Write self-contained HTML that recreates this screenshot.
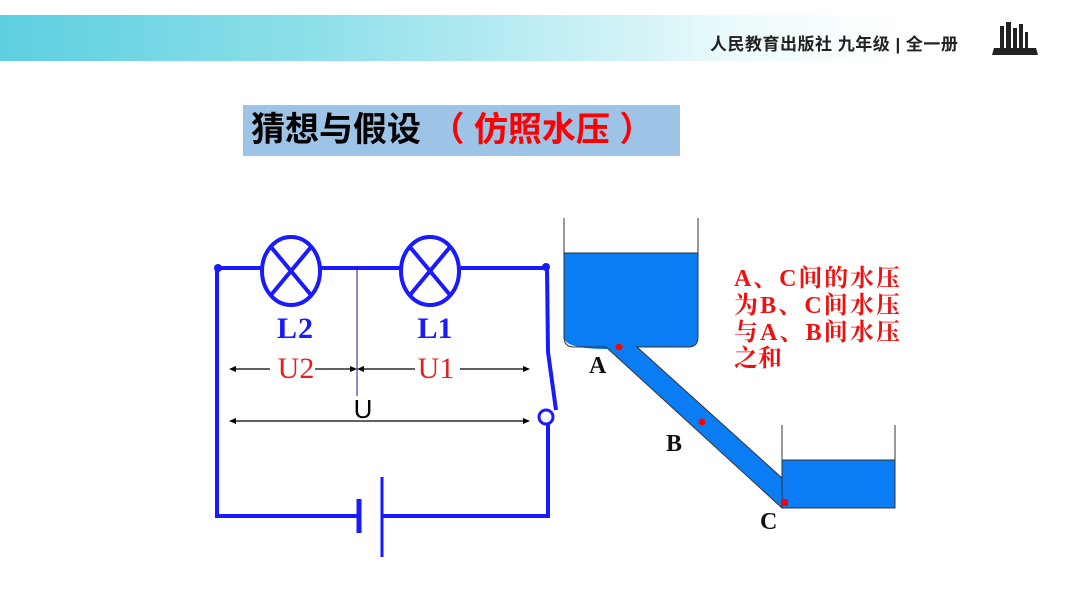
<!DOCTYPE html>
<html><head><meta charset="utf-8"><style>
body{margin:0;width:1066px;height:600px;background:#fff;position:relative;overflow:hidden;font-family:"Liberation Sans","Noto Sans CJK SC",sans-serif}
.band{position:absolute;left:0;top:15px;width:1066px;height:46px;background:linear-gradient(90deg,#5dcfe0 0%,#8fe0ea 30%,#c8f0f5 55%,#eefbfc 70%,#fff 85%)}
.pub{position:absolute;left:710px;top:30px;font-size:17px;font-weight:bold;color:#222;white-space:nowrap;letter-spacing:0.5px}
.title{position:absolute;left:243px;top:105px;width:437px;height:51px;background:#9dc3e6}
.title span{position:absolute;left:8px;top:5px;font-size:34px;font-weight:bold;white-space:nowrap;line-height:40px}
</style></head><body>
<div class="band"></div>
<div class="pub">人民教育出版社 九年级 | 全一册</div>
<svg style="position:absolute;left:990px;top:22px" width="50" height="34">
<rect x="10" y="4" width="4" height="22" fill="#222"/><rect x="16" y="0" width="5" height="26" fill="#222"/><rect x="23" y="6" width="4" height="20" fill="#222"/><rect x="29" y="2" width="4" height="24" fill="#222"/><rect x="35" y="10" width="3" height="16" fill="#222"/>
<polygon points="4,26 46,26 48,33 2,33" fill="#222"/></svg>
<div class="title"><span>猜想与假设 <span style="position:static;color:#f00">（ 仿照水压 ）</span></span></div>
<svg style="position:absolute;left:0;top:0" width="1066" height="600">
<g stroke="#1a1aff" stroke-width="4" fill="none">
<polyline points="217,268 546,268"/>
<polyline points="217,268 217,516 359,516"/>
<polyline points="382,516 548,516 548,424"/>
<polyline points="547,268 548,352 556,410"/>
<line x1="359" y1="499" x2="359" y2="533" stroke-width="5"/>
<line x1="382" y1="477" x2="382" y2="557" stroke-width="3"/>
<ellipse cx="291" cy="271" rx="29" ry="34" fill="#fff"/>
<ellipse cx="430" cy="271" rx="29" ry="34" fill="#fff"/>
<line x1="271" y1="247" x2="311" y2="295"/><line x1="311" y1="247" x2="271" y2="295"/>
<line x1="410" y1="247" x2="450" y2="295"/><line x1="450" y1="247" x2="410" y2="295"/>
<circle cx="546" cy="417" r="7" fill="#fff" stroke-width="3"/>
</g>
<circle cx="218" cy="268" r="4" fill="#1a1aff"/><circle cx="546" cy="267" r="4" fill="#1a1aff"/>
<line x1="357" y1="266" x2="357" y2="396" stroke="#1a1a99" stroke-width="1"/>
<g stroke="#000" stroke-width="1.2">
<line x1="232" y1="369" x2="270" y2="369"/><line x1="315" y1="369" x2="354" y2="369"/>
<line x1="360" y1="369" x2="415" y2="369"/><line x1="460" y1="369" x2="527" y2="369"/>
<line x1="232" y1="421" x2="527" y2="421"/>
</g>
<g fill="#000">
<polygon points="229,369 236,366 236,372"/><polygon points="357,369 350,366 350,372"/><polygon points="357,369 364,366 364,372"/><polygon points="530,369 523,366 523,372"/>
<polygon points="229,421 236,418 236,424"/><polygon points="530,421 523,418 523,424"/>
</g>
<g font-family="Liberation Serif,serif" font-size="30" text-anchor="middle">
<text x="295" y="338" fill="#1a1aff" font-weight="bold" textLength="36">L2</text><text x="435" y="338" fill="#1a1aff" font-weight="bold">L1</text>
<text x="296" y="378" fill="#e02020">U2</text><text x="436" y="378" fill="#e02020">U1</text>
</g>
<text x="363" y="418" font-size="26" text-anchor="middle" fill="#000">U</text>
<path d="M564,253 H698 V337 Q698,347 688,347 H637 L782,478 V460 H895 V508 H782 L608,349 Q564,349 564,337 Z" fill="#0a7df5"/>
<path d="M564,218 V337 Q564,347 574,347 H606 L782,508" fill="none" stroke="#333" stroke-width="1"/>
<path d="M698,218 V337 Q698,347 688,347 H637 L782,478" fill="none" stroke="#333" stroke-width="1"/>
<line x1="564" y1="253" x2="698" y2="253" stroke="#333"/>
<path d="M782,425 V508 H895 V425" fill="none" stroke="#333"/>
<line x1="782" y1="460" x2="895" y2="460" stroke="#333"/>
<circle cx="619" cy="347" r="3.5" fill="#f00"/><circle cx="702" cy="422" r="3.5" fill="#f00"/><rect x="782" y="499" width="6" height="7" fill="#f00"/>
<g font-family="Liberation Serif,serif" font-size="24" font-weight="bold" fill="#111">
<text x="589" y="373">A</text><text x="666" y="451">B</text><text x="760" y="529">C</text>
</g>
<g font-family="Liberation Serif,'Noto Serif CJK SC',serif" font-size="24" font-weight="bold" fill="#f01010">
<text x="734" y="286" textLength="166">A、C间的水压</text><text x="734" y="313" textLength="166">为B、C间水压</text><text x="734" y="340" textLength="166">与A、B间水压</text><text x="734" y="366">之和</text>
</g>
</svg>
</body></html>
